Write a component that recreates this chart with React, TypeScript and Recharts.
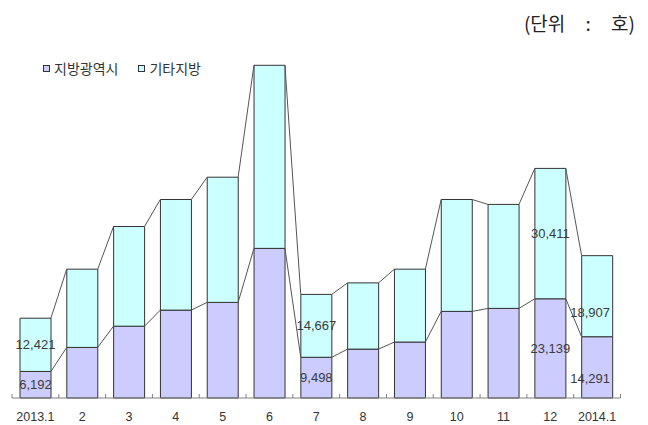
import { ComposedChart, Bar, Line, XAxis, YAxis, LabelList } from "recharts";

const months = ["2013.1", "2", "3", "4", "5", "6", "7", "8", "9", "10", "11", "12", "2014.1"];
const metroCities = [6192, 11800, 16750, 20500, 22300, 34900, 9498, 11400, 13050, 20200, 20900, 23139, 14291];
const otherRegions = [12421, 18250, 23250, 25800, 29200, 42700, 14667, 15450, 17000, 26100, 24250, 30411, 18907];
const labelledMonths = ["2013.1", "7", "12", "2014.1"];

const data = months.map((month, i) => ({ month, metro: metroCities[i], other: otherRegions[i] }));

const METRO = "#ccccff";
const OTHER = "#ccffff";
const BAR_SIZE = 31;
const HALF = BAR_SIZE / 2;
const font = "'Liberation Sans', Arial, sans-serif";
const krFont = "'Noto Sans CJK KR', sans-serif";

// the last label pair sits a bit off-centre in the original
const labelNudge: Record<string, { dx: number; dy: number }> = {
  "metro:2014.1": { dx: -7, dy: 11 },
  "other:2014.1": { dx: -7, dy: 16 },
};

// Excel-style series lines: from the right edge of one bar top to the left edge of the next
const seriesLineCurve = (ctx: any) => {
  let px = 0;
  let py = 0;
  let n = 0;
  return {
    areaStart() {},
    areaEnd() {},
    lineStart() {
      n = 0;
    },
    lineEnd() {},
    point(x: number, y: number) {
      if (n > 0) {
        ctx.moveTo(px + HALF, py);
        ctx.lineTo(x - HALF, y);
      } else {
        ctx.moveTo(x, y);
      }
      px = x;
      py = y;
      n++;
    },
  };
};

const makeLabel = (series: string) => (props: any) => {
  const { x, y, width, height, value, index } = props;
  const month = months[index];
  if (!labelledMonths.includes(month)) return null;
  const nudge = labelNudge[`${series}:${month}`] || { dx: 0, dy: 0 };
  return (
    <text
      x={x + width / 2 + nudge.dx}
      y={y + height / 2 + nudge.dy}
      textAnchor="middle"
      dominantBaseline="central"
      fontSize={13}
      fontFamily={font}
      fill="#3a3a3a"
    >
      {Number(value).toLocaleString("en-US")}
    </text>
  );
};

// month label plus small inward tick marks on the category boundaries
const MonthTick = (props: any) => {
  const { x, y, payload, index, visibleTicksCount, width } = props;
  const half = payload.offset ?? width / visibleTicksCount / 2;
  return (
    <g>
      <line x1={x - half} x2={x - half} y1={y} y2={y - 4} stroke="#808080" />
      {index === visibleTicksCount - 1 && <line x1={x + half} x2={x + half} y1={y} y2={y - 4} stroke="#808080" />}
      <text x={x} y={y + 23} textAnchor="middle" fontSize={12.5} fontFamily={font} fill="#333">
        {payload.value}
      </text>
    </g>
  );
};

const legendItems = [
  { name: "지방광역시", color: METRO },
  { name: "기타지방", color: OTHER },
];

export default function App() {
  return (
    <div style={{ position: "absolute", left: 0, top: 0, width: 648, height: 425, background: "#fff" }}>
      <div
        style={{
          position: "absolute",
          right: 13,
          top: 9,
          fontFamily: krFont,
          fontSize: 19,
          color: "#222",
          wordSpacing: 16,
          whiteSpace: "pre",
        }}
      >
        (단위 : 호)
      </div>
      <div style={{ position: "absolute", left: 43, top: 58, display: "flex", gap: 20, fontFamily: krFont, fontSize: 14, color: "#333" }}>
        {legendItems.map((it) => (
          <div key={it.name} style={{ display: "flex", alignItems: "center", gap: 4 }}>
            <span style={{ width: 5, height: 5, border: "1px solid #333", background: it.color, display: "inline-block" }} />
            <span>{it.name}</span>
          </div>
        ))}
      </div>
      <ComposedChart width={648} height={425} data={data} margin={{ top: 55, right: 27.5, bottom: 0, left: 12 }}>
        <YAxis hide domain={[0, 80000]} />
        <XAxis
          dataKey="month"
          height={27}
          axisLine={{ stroke: "#808080" }}
          tickLine={false}
          tickSize={0}
          tickMargin={0}
          interval={0}
          tick={<MonthTick />}
        />
        <Bar dataKey="metro" stackId="s" fill={METRO} stroke="#333" strokeWidth={1} barSize={BAR_SIZE} isAnimationActive={false}>
          <LabelList dataKey="metro" content={makeLabel("metro")} />
        </Bar>
        <Bar dataKey="other" stackId="s" fill={OTHER} stroke="#333" strokeWidth={1} barSize={BAR_SIZE} isAnimationActive={false}>
          <LabelList dataKey="other" content={makeLabel("other")} />
        </Bar>
        <Line
          dataKey="metro"
          type={seriesLineCurve as any}
          stroke="#555"
          strokeWidth={1}
          dot={false}
          activeDot={false}
          isAnimationActive={false}
        />
        <Line
          dataKey={(d: any) => d.metro + d.other}
          type={seriesLineCurve as any}
          stroke="#555"
          strokeWidth={1}
          dot={false}
          activeDot={false}
          isAnimationActive={false}
        />
      </ComposedChart>
    </div>
  );
}
